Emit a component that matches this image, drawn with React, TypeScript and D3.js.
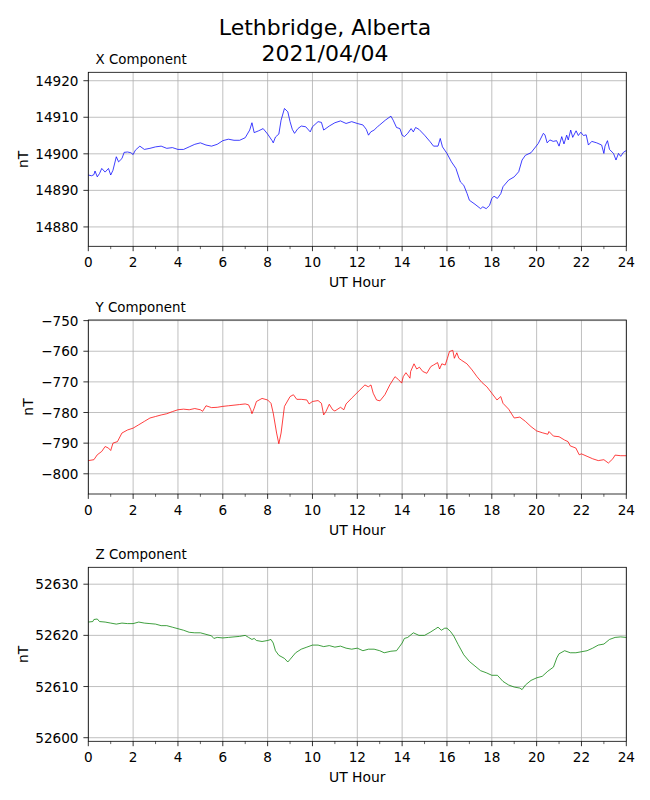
import React from 'react';
import * as d3 from 'd3';

// [UT hour, nT]
const xComponent: [number, number][] = [
  [0, 14894.2], [0.15, 14894.0], [0.25, 14894.3], [0.3, 14895.3], [0.4, 14893.7], [0.5, 14894.6],
  [0.6, 14896.0], [0.75, 14895.0], [0.9, 14896.0], [1.0, 14894.2], [1.1, 14895.5], [1.25, 14899.2],
  [1.35, 14897.8], [1.5, 14898.7], [1.6, 14900.4], [1.75, 14900.5], [1.9, 14900.3], [2.0, 14899.8],
  [2.1, 14901.0], [2.3, 14902.1], [2.5, 14901.2], [2.75, 14901.5], [3.0, 14901.9], [3.25, 14902.1],
  [3.5, 14901.5], [3.75, 14901.7], [4.0, 14901.2], [4.25, 14901.2], [4.5, 14901.9], [4.75, 14902.6],
  [5.0, 14903.0], [5.25, 14902.4], [5.5, 14902.1], [5.75, 14902.6], [6.0, 14903.6], [6.25, 14904.0],
  [6.5, 14903.7], [6.75, 14903.7], [7.0, 14904.4], [7.2, 14906.5], [7.3, 14908.5], [7.4, 14905.8],
  [7.6, 14906.3], [7.8, 14906.9], [8.0, 14905.4], [8.2, 14903.6], [8.25, 14903.0], [8.35, 14904.6],
  [8.5, 14905.4], [8.6, 14909.2], [8.75, 14912.4], [8.9, 14911.5], [9.0, 14908.8], [9.1, 14906.7],
  [9.2, 14905.6], [9.35, 14906.9], [9.5, 14907.6], [9.7, 14907.4], [9.9, 14906.0], [10.0, 14907.4],
  [10.25, 14908.8], [10.4, 14908.6], [10.5, 14906.5], [10.75, 14907.6], [11.0, 14908.5], [11.25, 14909.0],
  [11.5, 14908.3], [11.75, 14908.8], [12.0, 14908.3], [12.25, 14907.9], [12.4, 14906.7], [12.5, 14905.1],
  [12.6, 14906.0], [12.75, 14906.5], [12.9, 14907.4], [13.0, 14907.9], [13.25, 14909.2], [13.5, 14910.3],
  [13.6, 14909.2], [13.75, 14907.2], [13.9, 14906.9], [14.0, 14905.1], [14.1, 14904.7], [14.25, 14905.6],
  [14.4, 14906.9], [14.5, 14906.0], [14.6, 14907.2], [14.75, 14906.7], [15.0, 14905.1], [15.25, 14903.3],
  [15.4, 14902.1], [15.6, 14902.1], [15.7, 14904.2], [15.8, 14901.9], [16.0, 14900.1], [16.2, 14897.8],
  [16.4, 14896.0], [16.6, 14892.3], [16.75, 14891.4], [16.9, 14889.1], [17.0, 14887.3], [17.25, 14886.2],
  [17.5, 14885.0], [17.6, 14885.5], [17.75, 14885.0], [17.9, 14885.9], [18.0, 14887.8], [18.1, 14888.4],
  [18.25, 14887.8], [18.4, 14889.1], [18.5, 14891.0], [18.75, 14892.8], [19.0, 14893.7], [19.2, 14895.1],
  [19.35, 14898.3], [19.5, 14899.6], [19.75, 14900.3], [20.07, 14902.8], [20.3, 14905.6], [20.37, 14905.2],
  [20.47, 14903.0], [20.59, 14903.8], [20.74, 14903.4], [20.89, 14903.6], [21.0, 14902.1], [21.12, 14904.7],
  [21.22, 14902.7], [21.34, 14905.1], [21.41, 14903.8], [21.52, 14906.5], [21.61, 14904.5], [21.76, 14906.3],
  [21.86, 14905.0], [21.97, 14905.9], [22.09, 14905.0], [22.21, 14905.2], [22.31, 14902.4], [22.46, 14903.4],
  [22.68, 14903.0], [22.9, 14902.4], [23.0, 14900.1], [23.05, 14902.1], [23.16, 14903.6], [23.25, 14901.2],
  [23.43, 14900.1], [23.54, 14898.3], [23.65, 14900.1], [23.75, 14899.3], [23.87, 14900.4], [24.0, 14900.9],
];

const yComponent: [number, number][] = [
  [0, -795.7], [0.25, -795.4], [0.4, -793.8], [0.6, -792.7], [0.75, -791.1], [0.9, -791.6],
  [1.0, -792.4], [1.1, -790.0], [1.3, -789.5], [1.5, -786.7], [1.75, -785.7], [2.0, -785.1],
  [2.25, -784.0], [2.5, -782.9], [2.75, -781.8], [3.0, -781.3], [3.25, -780.8], [3.5, -780.4],
  [3.75, -779.7], [4.0, -779.1], [4.25, -778.9], [4.5, -779.1], [4.75, -778.7], [5.0, -779.1],
  [5.1, -779.6], [5.25, -777.8], [5.5, -778.4], [5.75, -778.3], [6.0, -778.0], [6.25, -777.8],
  [6.5, -777.6], [6.75, -777.4], [7.0, -777.2], [7.15, -777.5], [7.25, -779.1], [7.3, -780.4],
  [7.4, -778.6], [7.5, -776.4], [7.75, -775.4], [8.0, -775.9], [8.15, -777.0], [8.25, -780.2],
  [8.4, -786.7], [8.5, -790.2], [8.6, -786.7], [8.75, -778.0], [9.0, -774.8], [9.15, -774.2],
  [9.3, -775.7], [9.5, -775.7], [9.75, -775.9], [9.85, -777.2], [10.0, -776.4], [10.25, -776.1],
  [10.4, -777.0], [10.5, -780.8], [10.6, -779.7], [10.75, -777.3], [10.9, -779.1], [11.0, -779.5],
  [11.25, -778.3], [11.4, -779.1], [11.5, -777.2], [11.75, -775.3], [12.12, -772.6], [12.34, -771.0],
  [12.49, -771.6], [12.61, -771.0], [12.71, -773.7], [12.86, -775.9], [13.01, -776.2], [13.23, -774.2],
  [13.45, -771.0], [13.68, -768.3], [13.83, -769.2], [13.98, -770.4], [14.05, -768.3], [14.17, -767.0],
  [14.28, -768.1], [14.35, -768.8], [14.38, -766.6], [14.53, -764.1], [14.65, -765.8], [14.77, -765.2],
  [14.92, -766.6], [15.1, -767.2], [15.28, -765.0], [15.4, -764.5], [15.58, -763.7], [15.67, -765.8],
  [15.77, -764.1], [15.92, -764.5], [16.02, -762.3], [16.11, -760.1], [16.26, -759.7], [16.33, -762.3],
  [16.44, -760.5], [16.53, -762.3], [16.66, -763.0], [16.89, -764.1], [17.12, -766.1], [17.34, -768.3],
  [17.56, -770.2], [17.78, -771.6], [18.0, -773.7], [18.23, -775.9], [18.4, -774.8], [18.5, -777.0],
  [18.75, -778.9], [19.0, -781.8], [19.25, -781.5], [19.5, -782.9], [19.75, -784.6], [20.0, -786.0],
  [20.25, -786.6], [20.5, -787.1], [20.55, -786.2], [20.75, -787.7], [21.0, -787.9], [21.25, -789.0],
  [21.4, -789.5], [21.5, -790.9], [21.75, -791.6], [21.9, -793.8], [22.0, -793.5], [22.25, -794.3],
  [22.5, -795.1], [22.75, -795.7], [23.0, -795.4], [23.2, -796.5], [23.4, -795.1], [23.5, -793.9],
  [23.75, -794.1], [24.0, -794.1],
];

const zComponent: [number, number][] = [
  [0, 52622.6], [0.2, 52622.7], [0.25, 52623.1], [0.4, 52623.2], [0.5, 52622.7], [0.75, 52622.6],
  [1.0, 52622.4], [1.25, 52622.2], [1.5, 52622.4], [1.75, 52622.3], [2.0, 52622.3], [2.25, 52622.6],
  [2.5, 52622.4], [2.75, 52622.3], [3.0, 52622.2], [3.25, 52621.9], [3.5, 52621.9], [3.75, 52621.6],
  [4.0, 52621.3], [4.25, 52621.0], [4.5, 52620.6], [4.75, 52620.5], [5.0, 52620.5], [5.25, 52620.2],
  [5.5, 52619.9], [5.6, 52619.4], [5.75, 52619.6], [6.0, 52619.5], [6.25, 52619.6], [6.5, 52619.7],
  [6.75, 52619.8], [7.0, 52620.0], [7.15, 52619.6], [7.3, 52619.2], [7.4, 52619.4], [7.5, 52619.0],
  [7.75, 52618.8], [8.0, 52619.0], [8.15, 52619.2], [8.25, 52618.5], [8.35, 52617.0], [8.5, 52616.1],
  [8.75, 52615.5], [8.9, 52614.8], [9.0, 52615.3], [9.25, 52616.6], [9.5, 52617.3], [9.75, 52617.7],
  [10.0, 52618.1], [10.25, 52618.1], [10.5, 52617.8], [10.75, 52618.0], [11.0, 52617.7], [11.25, 52617.9],
  [11.5, 52617.5], [11.75, 52617.3], [12.0, 52617.5], [12.25, 52617.0], [12.5, 52617.3], [12.75, 52617.3],
  [13.0, 52617.0], [13.2, 52616.6], [13.5, 52616.9], [13.75, 52617.0], [13.9, 52617.9], [14.0, 52618.5],
  [14.1, 52619.4], [14.25, 52619.6], [14.5, 52620.5], [14.75, 52620.0], [15.0, 52620.0], [15.25, 52620.6],
  [15.5, 52621.3], [15.6, 52621.6], [15.75, 52621.0], [15.9, 52621.4], [16.0, 52621.4], [16.15, 52620.8],
  [16.3, 52619.9], [16.5, 52618.2], [16.75, 52616.2], [17.0, 52614.9], [17.25, 52614.0], [17.5, 52613.1],
  [17.75, 52612.7], [18.0, 52612.2], [18.25, 52612.2], [18.5, 52611.0], [18.75, 52610.3], [19.0, 52609.9],
  [19.25, 52609.7], [19.35, 52609.4], [19.5, 52610.3], [19.75, 52611.2], [20.0, 52611.7], [20.25, 52612.0],
  [20.5, 52613.0], [20.75, 52613.8], [20.9, 52615.6], [21.0, 52616.4], [21.25, 52617.0], [21.5, 52616.6],
  [21.75, 52616.6], [22.0, 52616.8], [22.25, 52617.0], [22.5, 52617.5], [22.75, 52618.1], [23.0, 52618.3],
  [23.25, 52619.2], [23.5, 52619.6], [23.75, 52619.7], [24.0, 52619.6],
];

const hourTicks = [0, 2, 4, 6, 8, 10, 12, 14, 16, 18, 20, 22, 24];
const hourMinorTicks = [1, 3, 5, 7, 9, 11, 13, 15, 17, 19, 21, 23];
const xTicks = [14880, 14890, 14900, 14910, 14920];
const yTicks = [-800, -790, -780, -770, -760, -750];
const zTicks = [52600, 52610, 52620, 52630];

const titleLines = ['Lethbridge, Alberta', '2021/04/04'];

const panels = [
  { name: 'X Component', data: xComponent, ticks: xTicks, domain: [14874.7, 14922.3], color: 'blue', top: 72.3, labelX: 27.7 },
  { name: 'Y Component', data: yComponent, ticks: yTicks, domain: [-806.6, -749.8], color: 'red', top: 320, labelX: 33.3 },
  { name: 'Z Component', data: zComponent, ticks: zTicks, domain: [52599.3, 52633.3], color: 'green', top: 567.3, labelX: 27.7 },
];

const W = 650;
const H = 800;
const left = 88.3;
const right = 626.3;
const panelH = 174;
const font = 'DejaVu Sans, sans-serif';
const fmt = d3.format('d');

const x = d3.scaleLinear().domain([0, 24]).range([left, right]);

const Panel = ({ p }: { p: typeof panels[number] }) => {
  const y = d3.scaleLinear().domain(p.domain).range([p.top + panelH, p.top]);
  const line = d3.line<[number, number]>().x(d => x(d[0])).y(d => y(d[1]));
  const bottom = p.top + panelH;
  return (
    <g>
      <text x={95.5} y={p.top - 8.5} fontSize={13.4} fontFamily={font}>{p.name}</text>
      {hourTicks.map(t => (
        <line key={'gx' + t} x1={x(t)} x2={x(t)} y1={p.top} y2={bottom} stroke="#b0b0b0" strokeWidth={0.8} />
      ))}
      {p.ticks.map(t => (
        <line key={'gy' + t} x1={left} x2={right} y1={y(t)} y2={y(t)} stroke="#b0b0b0" strokeWidth={0.8} />
      ))}
      <path d={line(p.data) ?? ''} fill="none" stroke={p.color} strokeWidth={0.75} />
      <rect x={left} y={p.top} width={right - left} height={panelH} fill="none" stroke="black" strokeWidth={0.8} />
      {hourTicks.map(t => (
        <g key={'tx' + t}>
          <line x1={x(t)} x2={x(t)} y1={bottom} y2={bottom + 4.9} stroke="black" strokeWidth={0.8} />
          <text x={x(t)} y={bottom + 20.5} textAnchor="middle" fontSize={13.6} fontFamily={font}>{t}</text>
        </g>
      ))}
      {hourMinorTicks.map(t => (
        <line key={'mx' + t} x1={x(t)} x2={x(t)} y1={bottom} y2={bottom + 2.8} stroke="black" strokeWidth={0.6} />
      ))}
      {p.ticks.map(t => (
        <g key={'ty' + t}>
          <line x1={left - 4.9} x2={left} y1={y(t)} y2={y(t)} stroke="black" strokeWidth={0.8} />
          <text x={left - 9.8} y={y(t) + 5} textAnchor="end" fontSize={13.6} fontFamily={font}>{fmt(t)}</text>
        </g>
      ))}
      <text x={(left + right) / 2} y={bottom + 41} textAnchor="middle" fontSize={13.9} fontFamily={font}>UT Hour</text>
      <text
        transform={`translate(${p.labelX},${p.top + panelH / 2}) rotate(-90)`}
        textAnchor="middle"
        fontSize={13.9}
        fontFamily={font}
      >nT</text>
    </g>
  );
};

export default function App() {
  return (
    <svg width={W} height={H} style={{ position: 'absolute', left: 0, top: 0, background: 'white' }}>
      <rect width={W} height={H} fill="white" />
      {titleLines.map((s, i) => (
        <text key={s} x={325} y={34.5 + i * 26} textAnchor="middle" fontSize={22} fontFamily={font}>{s}</text>
      ))}
      {panels.map(p => <Panel key={p.name} p={p} />)}
    </svg>
  );
}
